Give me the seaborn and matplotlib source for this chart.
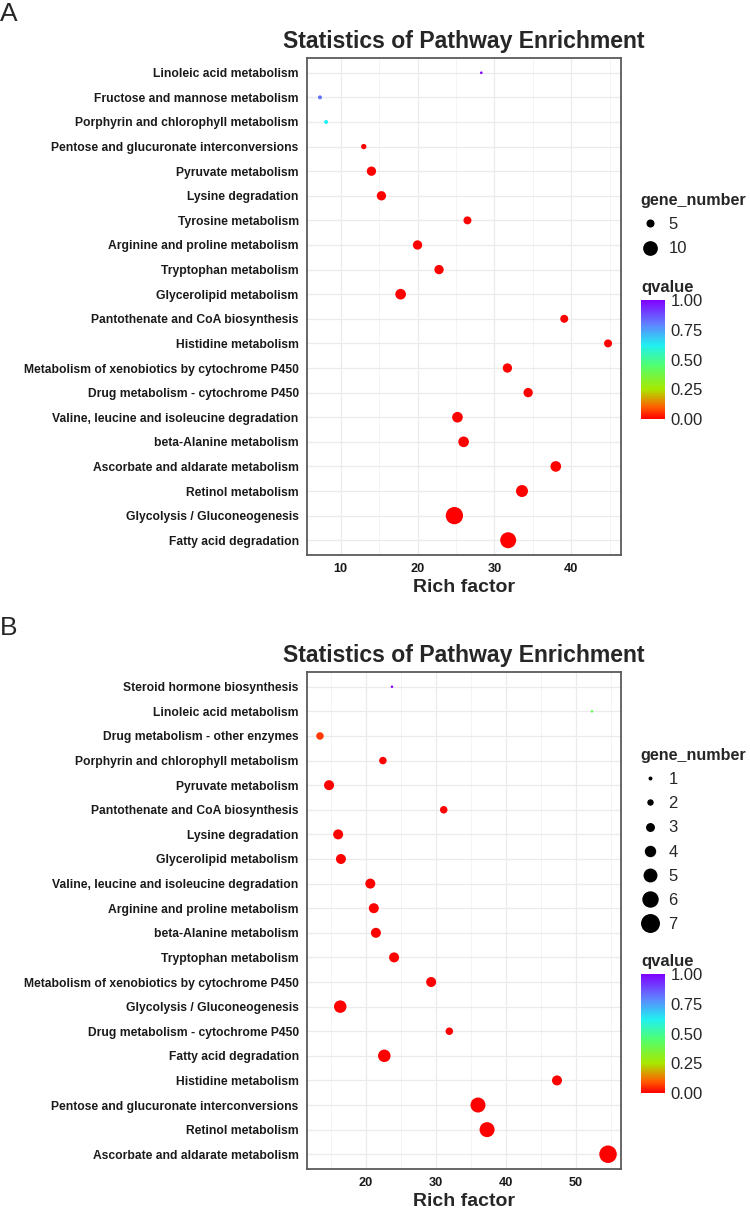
import numpy as np
import pandas as pd
import matplotlib
matplotlib.use("Agg")
import matplotlib.pyplot as plt
import seaborn as sns
from matplotlib.colors import LinearSegmentedColormap, Normalize
from matplotlib.cm import ScalarMappable
from matplotlib.lines import Line2D
from matplotlib.ticker import MultipleLocator

# ---- Panel A data (top to bottom) ----
pathways_a = [
    "Linoleic acid metabolism", "Fructose and mannose metabolism",
    "Porphyrin and chlorophyll metabolism", "Pentose and glucuronate interconversions",
    "Pyruvate metabolism", "Lysine degradation", "Tyrosine metabolism",
    "Arginine and proline metabolism", "Tryptophan metabolism", "Glycerolipid metabolism",
    "Pantothenate and CoA biosynthesis", "Histidine metabolism",
    "Metabolism of xenobiotics by cytochrome P450", "Drug metabolism - cytochrome P450",
    "Valine, leucine and isoleucine degradation", "beta-Alanine metabolism",
    "Ascorbate and aldarate metabolism", "Retinol metabolism",
    "Glycolysis / Gluconeogenesis", "Fatty acid degradation",
]
rich_a = [28.3, 7.3, 8.1, 13.0, 14.0, 15.3, 26.5, 20.0, 22.8, 17.8,
          39.1, 44.8, 31.7, 34.4, 25.2, 26.0, 38.0, 33.6, 24.8, 31.8]
genes_a = [2, 3, 3, 4, 7, 7, 6, 7, 7, 8,
           6, 6, 7, 7, 8, 8, 8, 9, 13, 12]
qvalue_a = [1.0, 0.82, 0.62, 0.0, 0.0, 0.0, 0.0, 0.0, 0.0, 0.0,
            0.0, 0.0, 0.0, 0.0, 0.0, 0.0, 0.0, 0.0, 0.0, 0.0]
size_breaks_a = [5, 10]

# ---- Panel B data (top to bottom) ----
pathways_b = [
    "Steroid hormone biosynthesis", "Linoleic acid metabolism",
    "Drug metabolism - other enzymes", "Porphyrin and chlorophyll metabolism",
    "Pyruvate metabolism", "Pantothenate and CoA biosynthesis", "Lysine degradation",
    "Glycerolipid metabolism", "Valine, leucine and isoleucine degradation",
    "Arginine and proline metabolism", "beta-Alanine metabolism", "Tryptophan metabolism",
    "Metabolism of xenobiotics by cytochrome P450", "Glycolysis / Gluconeogenesis",
    "Drug metabolism - cytochrome P450", "Fatty acid degradation", "Histidine metabolism",
    "Pentose and glucuronate interconversions", "Retinol metabolism",
    "Ascorbate and aldarate metabolism",
]
rich_b = [23.7, 52.3, 13.4, 22.4, 14.7, 31.1, 16.0, 16.4, 20.6, 21.1,
          21.4, 24.0, 29.3, 16.3, 31.9, 22.6, 47.3, 36.0, 37.3, 54.6]
genes_b = [1, 1, 3, 3, 4, 3, 4, 4, 4, 4,
           4, 4, 4, 5, 3, 5, 4, 6, 6, 7]
qvalue_b = [1.0, 0.4, 0.06, 0.0, 0.0, 0.0, 0.0, 0.0, 0.0, 0.0,
            0.0, 0.0, 0.0, 0.0, 0.0, 0.0, 0.0, 0.0, 0.0, 0.0]
size_breaks_b = [1, 2, 3, 4, 5, 6, 7]

q_ticks = [0.0, 0.25, 0.5, 0.75, 1.0]

sns.set_style("white")
plt.rcParams["font.family"] = ["Liberation Sans", "DejaVu Sans"]

qcmap = LinearSegmentedColormap.from_list(
    "qv", [(0.0, "#FF0000"), (0.1, "#FF6000"), (0.25, "#A8E800"), (0.45, "#50FF70"),
           (0.62, "#20F0F0"), (0.8, "#6080FF"), (1.0, "#8000FF")])

W, H = 750, 1209
fig = plt.figure(figsize=(W / 100, H / 100), dpi=100)


def fx(px):
    return px / W


def fy(py):
    return 1 - py / H


def draw_panel(top, pathways, rich, genes, qv, px_per_gene, breaks, letter,
               leg_y, qv_y):
    df = pd.DataFrame({"pathway": pathways, "rich": rich, "genes": genes, "qvalue": qv})
    size_map = {g: (0.72 * px_per_gene * g) ** 2 for g in sorted(set(genes))}

    ax = fig.add_axes([fx(307), fy(top + 497), fx(314), 497 / H])
    sns.scatterplot(data=df, x="rich", y="pathway", hue="qvalue", hue_norm=(0, 1),
                    palette=qcmap, size="genes", sizes=size_map, linewidth=0,
                    legend=False, ax=ax, zorder=3)
    n = len(pathways)
    ax.set_ylim(n - 0.4, -0.6)
    lo, hi = min(rich), max(rich)
    pad = (hi - lo) * 0.045
    ax.set_xlim(lo - pad, hi + pad)
    ax.xaxis.set_major_locator(MultipleLocator(10))
    ax.xaxis.set_minor_locator(MultipleLocator(5))
    ax.grid(which="major", color="#EBEBEB", lw=0.9, zorder=0)
    ax.grid(which="minor", axis="x", color="#F2F2F2", lw=0.6, zorder=0)
    ax.set_axisbelow(True)
    for sp in ax.spines.values():
        sp.set_color("#5A5A5A")
        sp.set_linewidth(1.3)
    ax.tick_params(axis="both", which="major", length=4, width=1, color="#333333",
                   pad=2)
    ax.tick_params(axis="y", labelsize=8.75)
    ax.tick_params(axis="x", labelsize=9.2)
    ax.tick_params(axis="both", which="minor", length=0)
    for lab in ax.get_xticklabels() + ax.get_yticklabels():
        lab.set_fontweight("bold")
        lab.set_color("#1A1A1A")
    ax.set_ylabel("")
    ax.set_xlabel("Rich factor", fontsize=14, fontweight="bold", labelpad=3)

    fig.text(fx(464), fy(top - 10), "Statistics of Pathway Enrichment", fontsize=16.6,
             fontweight="bold", ha="center", va="baseline")
    fig.text(fx(0), fy(top - 37), letter, fontsize=19, va="baseline")

    # size legend
    handles = [Line2D([], [], ls="", marker="o", color="black",
                      markersize=0.72 * px_per_gene * b) for b in breaks]
    leg = fig.legend(handles, [str(b) for b in breaks], title="gene_number",
                     loc="upper left", bbox_to_anchor=(fx(640), fy(leg_y - 7)),
                     frameon=False, fontsize=12, title_fontsize=11.6,
                     labelspacing=0.55, handlelength=1.2, handletextpad=0.5,
                     borderpad=0.0, borderaxespad=0.0, alignment="left")
    leg.get_title().set_fontweight("bold")

    # colour bar
    fig.text(fx(641), fy(qv_y), "qvalue", fontsize=12, fontweight="bold", va="baseline")
    cax = fig.add_axes([fx(641), fy(qv_y + 127), fx(24), 119 / H])
    cb = fig.colorbar(ScalarMappable(norm=Normalize(0, 1), cmap=qcmap), cax=cax)
    cb.outline.set_visible(False)
    cb.set_ticks(q_ticks)
    cb.set_ticklabels([f"{t:.2f}" for t in q_ticks])
    cax.tick_params(which="major", direction="in", color="white", length=5, width=1,
                    left=True, right=True, labelsize=12, pad=4)
    cax.tick_params(which="minor", length=0)


draw_panel(58, pathways_a, rich_a, genes_a, qvalue_a, 1.33, size_breaks_a, "A",
           200, 292)
draw_panel(672, pathways_b, rich_b, genes_b, qvalue_b, 2.5, size_breaks_b, "B",
           755, 966)

fig.savefig("out.png", dpi=100)
